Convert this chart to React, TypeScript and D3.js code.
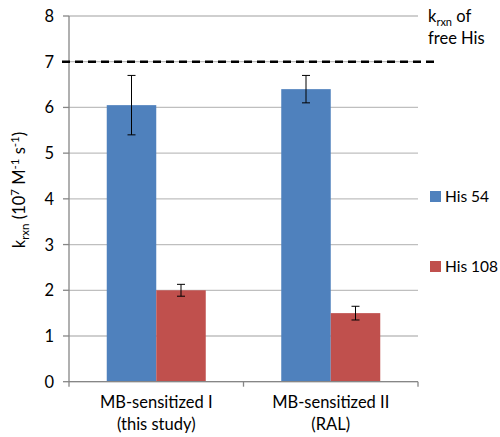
import React from "react";
import * as d3 from "d3";

const categories = ["MB-sensitized I|(this study)", "MB-sensitized II|(RAL)"];
const seriesNames = ["His 54", "His 108"];
const seriesColors = ["#4f81bd", "#c0504d"];
const his54 = [6.05, 6.4];
const his54Err = [0.65, 0.3];
const his108 = [2.0, 1.5];
const his108Err = [0.13, 0.15];
const yTicks = [0, 1, 2, 3, 4, 5, 6, 7, 8];
const freeHisRate = 7;

const W = 500;
const H = 437;
const plot = { left: 69, right: 418, top: 16, bottom: 381.7 };
const FONT = "Lato, 'Open Sans', sans-serif";

export default function App() {
  const x = d3.scaleBand<string>().domain(categories).range([plot.left, plot.right]).paddingInner(0).paddingOuter(0);
  const y = d3.scaleLinear().domain([0, 8]).range([plot.bottom, plot.top]);
  const barW = 49.5;
  const series = [
    { name: seriesNames[0], values: his54, err: his54Err, color: seriesColors[0] },
    { name: seriesNames[1], values: his108, err: his108Err, color: seriesColors[1] },
  ];

  return (
    <svg width={W} height={H} style={{ position: "absolute", left: 0, top: 0, background: "#fff" }} fontFamily={FONT}>
      {/* gridlines */}
      {yTicks.map((t) => (
        <line key={"g" + t} x1={plot.left} x2={plot.right} y1={y(t)} y2={y(t)} stroke="#bfbfbf" strokeWidth={1.3} />
      ))}
      {/* y axis */}
      <line x1={plot.left} x2={plot.left} y1={y(8)} y2={y(0)} stroke="#868686" strokeWidth={1.3} />
      {yTicks.map((t) => (
        <g key={"t" + t}>
          <line x1={plot.left - 6} x2={plot.left} y1={y(t)} y2={y(t)} stroke="#868686" strokeWidth={1.3} />
          <text x={54} y={y(t)} dy="0.36em" textAnchor="end" fontSize={16.5} fill="#000">{t}</text>
        </g>
      ))}
      {/* bars */}
      {categories.map((c, ci) => {
        const cx = (x(c) as number) + x.bandwidth() / 2;
        return series.map((s, si) => {
          const bx = cx - barW + si * barW;
          const v = s.values[ci];
          const e = s.err[ci];
          const ex = bx + barW / 2;
          return (
            <g key={c + si}>
              <rect x={bx} y={y(v)} width={barW} height={y(0) - y(v)} fill={s.color} />
              <line x1={ex} x2={ex} y1={y(v + e)} y2={y(v - e)} stroke="#000" strokeWidth={1} />
              <line x1={ex - 4} x2={ex + 4} y1={y(v + e)} y2={y(v + e)} stroke="#000" strokeWidth={1} />
              <line x1={ex - 4} x2={ex + 4} y1={y(v - e)} y2={y(v - e)} stroke="#000" strokeWidth={1} />
            </g>
          );
        });
      })}
      {/* x axis */}
      <line x1={plot.left} x2={plot.right} y1={y(0)} y2={y(0)} stroke="#868686" strokeWidth={1.3} />
      {[plot.left, plot.left + x.bandwidth(), plot.right].map((px, i) => (
        <line key={"xt" + i} x1={px} x2={px} y1={y(0)} y2={y(0) + 5} stroke="#868686" strokeWidth={1.3} />
      ))}
      {categories.map((c) => {
        const cx = (x(c) as number) + x.bandwidth() / 2;
        const [l1, l2] = c.split("|");
        return (
          <text key={"xl" + c} x={cx} textAnchor="middle" fontSize={16.5} fill="#000">
            <tspan x={cx} y={408}>{l1}</tspan>
            <tspan x={cx} y={430}>{l2}</tspan>
          </text>
        );
      })}
      {/* free His reference rate */}
      <line x1={62} x2={434} y1={y(freeHisRate)} y2={y(freeHisRate)} stroke="#000" strokeWidth={2.4} strokeDasharray="8,5" />
      <text x={428} y={22} fontSize={16.5} fill="#000">
        k<tspan fontSize={11} dy={4}>rxn</tspan><tspan dy={-4}> of</tspan>
      </text>
      <text x={428} y={44} fontSize={16.5} fill="#000">free His</text>
      {/* y axis title */}
      <text transform={`translate(25,190) rotate(-90)`} textAnchor="middle" fontSize={16.5} fill="#000">
        k<tspan fontSize={11.5} dy={4}>rxn</tspan>
        <tspan dy={-4}> (10</tspan>
        <tspan fontSize={11.5} dy={-6}>7</tspan>
        <tspan dy={6}> M</tspan>
        <tspan fontSize={11.5} dy={-6}>-1</tspan>
        <tspan dy={6}> s</tspan>
        <tspan fontSize={11.5} dy={-6}>-1</tspan>
        <tspan dy={6}>)</tspan>
      </text>
      {/* legend */}
      {series.map((s, i) => {
        const ly = i === 0 ? 196.5 : 266.5;
        return (
          <g key={"lg" + i}>
            <rect x={430} y={ly - 5.5} width={11} height={11} fill={s.color} />
            <text x={445} y={ly} dy="0.36em" fontSize={15.5} fill="#000">{s.name}</text>
          </g>
        );
      })}
    </svg>
  );
}
